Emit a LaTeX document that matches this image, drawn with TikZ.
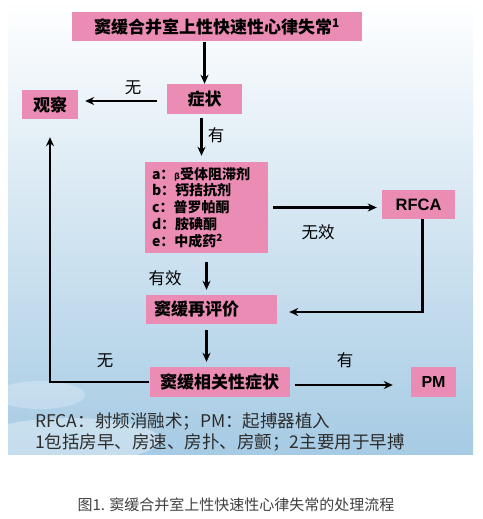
\documentclass[tikz,border=0pt]{standalone}
\usepackage{fontspec}
\setmainfont{Noto Sans CJK SC}
\newfontfamily\latin{Liberation Sans}
\definecolor{myp}    {RGB}{234, 140, 180}
\definecolor{mysky}  {RGB}{166, 203, 228}
\definecolor{mymid}  {RGB}{208, 229, 242}
\definecolor{mytxt}  {RGB}{45, 45, 45}
\usetikzlibrary{arrows.meta, positioning}

\begin{document}
\begin{tikzpicture}[
			x=1pt, y=-1pt,
			box/.style={fill=myp, minimum height=29, inner sep=0pt,
				font=\bfseries\fontsize{17}{20}\selectfont},
			lbl/.style={font=\fontsize{16.5}{20}\selectfont, inner sep=0pt},
			arr/.style={-{Stealth[length=9pt, width=8pt]}, line width=2.2pt},
			]
			\useasboundingbox (0,0) rectangle (482,519);
			% sky panel
			\shade[top color=white, middle color=mymid, bottom color=mysky] (8,0) rectangle (473,454);
			\fill[white, opacity=0.35] (70,440) ellipse (90 and 22);
			\fill[white, opacity=0.25] (40,395) ellipse (45 and 14);

			\node[box, minimum width=290] (tit) at (217,27) {窦缓合并室上性快速性心律失常\textsuperscript{1}};
			\node[box, minimum width=75, minimum height=30] (sym) at (204.5,99) {症状};
			\node[box, minimum width=56] (obs) at (50,104.5) {观察};
			\node[box, minimum width=123, minimum height=91, text width=109, inner xsep=7pt,
				align=left, font=\bfseries\fontsize{14}{16.8}\selectfont] (drug) at (206.5,207.5)
				{a：{\fontsize{8}{8}\selectfont β}受体阻滞剂\\ b：钙拮抗剂\\ c：普罗帕酮\\ d：胺碘酮\\ e：中成药\textsuperscript{2}};
			\node[box, minimum width=73, font=\latin\bfseries\fontsize{16.5}{20}\selectfont] (rfca) at (418.5,204.5) {RFCA};
			\node[box, minimum width=123, text width=115, inner xsep=8pt, align=left] (reval) at (211.5,309.5) {窦缓再评价};
			\node[box, minimum width=140, minimum height=30] (rel) at (219.5,382) {窦缓相关性症状};
			\node[box, minimum width=45, minimum height=30, font=\latin\bfseries\fontsize{16}{20}\selectfont] (pm) at (433.5,382) {PM};
			\coordinate (mid) at (206.5,0);

			\draw[arr] (tit.south -| sym) -- (sym.north);
			\draw[arr, shorten <=10pt, shorten >=7pt] (sym.west |- 0,101) -- (obs.east |- 0,101);
			\draw[arr, shorten <=4pt, shorten >=6pt] ([xshift=-3pt]sym.south) -- ([xshift=-3pt]sym.south |- drug.north);
			\draw[arr, shorten <=5pt, shorten >=5pt] (drug.east) -- (drug.east -| rfca.west);
			\draw[arr, shorten >=12pt] ([xshift=4pt]rfca.south) |- (reval.east |- 0,312);
			\draw[arr, shorten <=9pt, shorten >=5pt] (drug.south) -- (drug.south |- reval.north);
			\draw[arr, shorten <=6pt, shorten >=5pt] (reval.south -| mid) -- (rel.north -| mid);
			\draw[arr, shorten <=5pt, shorten >=18pt] (rel.east |- 0,385) -- (pm.west |- 0,385);
			\draw[arr, shorten >=18pt] (rel.west) -| (obs.south);

			\node[lbl] (l1) at (133,88) {无};
			\node[lbl] (l2) at (216,135) {有};
			\node[lbl] (l3) at (318,232) {无效};
			\node[lbl] (l4) at (165,278) {有效};
			\node[lbl] (l5) at (345,360) {有};
			\node[lbl] (l6) at (105,361) {无};

			\node[anchor=west, align=left, inner sep=0pt, text=mytxt,
				font=\fontsize{17.5}{21.5}\selectfont] (note) at (35,432)
				{RFCA：射频消融术；PM：起搏器植入\\ 1包括房早、房速、房扑、房颤；2主要用于早搏};
			\node[font=\fontsize{15}{18}\selectfont, text=black!75, inner sep=0pt] (cap) at (236,505)
				{图1. 窦缓合并室上性快速性心律失常的处理流程};
	\end{tikzpicture}
\end{document}
